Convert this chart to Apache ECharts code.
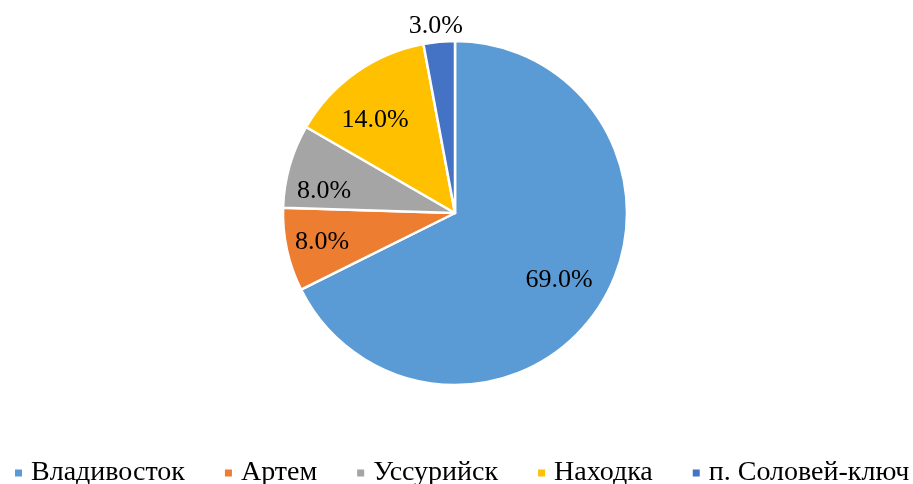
<!DOCTYPE html>
<html>
<head>
<meta charset="utf-8">
<script src="https://cdn.jsdelivr.net/npm/echarts@6/dist/echarts.min.js"></script>
<style>
  html, body { margin: 0; padding: 0; background: #fff; }
  #chart { width: 913px; height: 484px; }
</style>
</head>
<body>
<div id="chart"></div>
<script>
const cities = ['Владивосток', 'Артем', 'Уссурийск', 'Находка', 'п. Соловей-ключ']
const shares = [69, 8, 8, 14, 3]
const colors = ['#5B9BD5', '#ED7D31', '#A5A5A5', '#FFC000', '#4472C4']

// label nudges (Excel "best fit" places them off the slice middle)
const labelShift = [[-9, -3], [-3, 1], [-3, 15], [-3, 16], [-7, -54]]

const chart = echarts.init(document.getElementById('chart'))
const font = '"Liberation Serif", "Times New Roman", serif'

const pieData = cities.map((name, i) => ({
  name: name,
  value: shares[i],
  itemStyle: { color: colors[i] },
}))

chart.setOption({
  animation: false,
  legend: {
    data: cities,
    top: 459,
    left: 13,
    width: 900,
    padding: 0,
    icon: 'rect',
    itemWidth: 9,
    itemHeight: 9,
    itemGap: 38,
    textStyle: {
      fontFamily: font,
      fontSize: 28,
      color: '#000',
      padding: [0, 0, 0, 3],
    },
  },
  series: [
    {
      name: 'main',
      type: 'pie',
      center: [455, 213],
      radius: [0, 172],
      startAngle: 90,
      clockwise: true,
      silent: true,
      itemStyle: { borderColor: '#fff', borderWidth: 2.5 },
      label: { show: false },
      labelLine: { show: false },
      emphasis: { disabled: true },
      data: pieData,
    },
    {
      // transparent copy only used to put the percent labels
      name: 'labels',
      type: 'pie',
      center: [455, 213],
      radius: [0, 260],
      startAngle: 90,
      clockwise: true,
      silent: true,
      itemStyle: { color: 'rgba(0,0,0,0)', borderWidth: 0 },
      label: {
        show: true,
        position: 'inside',
        fontFamily: font,
        fontSize: 26,
        color: '#000',
        formatter: (p) => p.value.toFixed(1) + '%',
      },
      labelLine: { show: false },
      labelLayout: (p) => ({ dx: labelShift[p.dataIndex][0], dy: labelShift[p.dataIndex][1] }),
      emphasis: { disabled: true },
      data: cities.map((name, i) => ({ name: name, value: shares[i] })),
    },
  ],
})
</script>
</body>
</html>
